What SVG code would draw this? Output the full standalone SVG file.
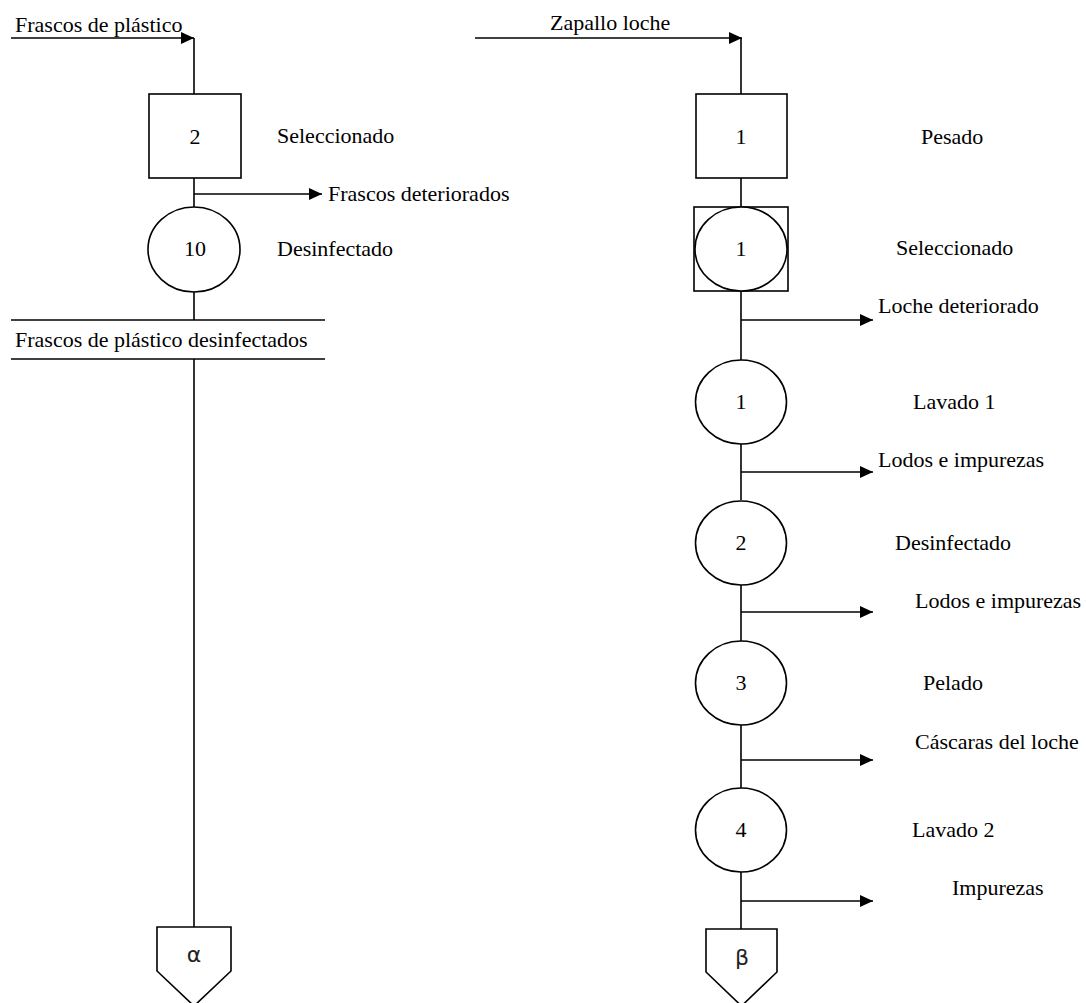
<svg xmlns="http://www.w3.org/2000/svg" width="1086" height="1003" viewBox="0 0 1086 1003">
  <style>
    .ln { stroke: #000; stroke-width: 1.6; fill: none; }
    .shape { stroke: #000; stroke-width: 1.6; fill: #fff; }
    .t { font-family: 'Liberation Serif', 'DejaVu Serif', serif; font-size: 22px; fill: #000; }
    .num { font-family: 'Liberation Serif', 'DejaVu Serif', serif; font-size: 22px; fill: #000; text-anchor: middle; }
    .greek { font-family: 'DejaVu Sans', sans-serif; font-size: 22px; fill: #222; text-anchor: middle; }
  </style>
  <defs>
    <marker id="arrow" markerUnits="userSpaceOnUse" markerWidth="14" markerHeight="12" refX="13" refY="6" orient="auto">
      <path d="M0,0 L13,6 L0,12 Z" fill="#000"/>
    </marker>
  </defs>
  <rect width="1086" height="1003" fill="#fff"/>

  <!-- connectors -->
  <g id="connectors">
    <!-- left line: plastic jars -->
    <line class="ln" x1="11" y1="38" x2="194" y2="38" marker-end="url(#arrow)"/>
    <line class="ln" x1="194" y1="38" x2="194" y2="94"/>
    <line class="ln" x1="194" y1="178" x2="194" y2="207"/>
    <line class="ln" x1="194" y1="194" x2="322" y2="194" marker-end="url(#arrow)"/>
    <line class="ln" x1="194" y1="292" x2="194" y2="320"/>
    <line class="ln" x1="11" y1="320" x2="325" y2="320"/>
    <line class="ln" x1="11" y1="359" x2="325" y2="359"/>
    <line class="ln" x1="194" y1="359" x2="194" y2="927"/>

    <!-- right line: loche squash -->
    <line class="ln" x1="475" y1="38" x2="742" y2="38" marker-end="url(#arrow)"/>
    <line class="ln" x1="741" y1="38" x2="741" y2="94"/>
    <line class="ln" x1="741" y1="178" x2="741" y2="207"/>
    <line class="ln" x1="741" y1="291" x2="741" y2="360"/>
    <line class="ln" x1="741" y1="320" x2="873" y2="320" marker-end="url(#arrow)"/>
    <line class="ln" x1="741" y1="444" x2="741" y2="500"/>
    <line class="ln" x1="741" y1="472" x2="873" y2="472" marker-end="url(#arrow)"/>
    <line class="ln" x1="741" y1="585" x2="741" y2="641"/>
    <line class="ln" x1="741" y1="612" x2="873" y2="612" marker-end="url(#arrow)"/>
    <line class="ln" x1="741" y1="725" x2="741" y2="788"/>
    <line class="ln" x1="741" y1="760" x2="873" y2="760" marker-end="url(#arrow)"/>
    <line class="ln" x1="741" y1="872" x2="741" y2="929"/>
    <line class="ln" x1="741" y1="901" x2="873" y2="901" marker-end="url(#arrow)"/>
  </g>

  <!-- input labels -->
  <text class="t" x="15" y="32">Frascos de plástico</text>
  <text class="t" x="550" y="30">Zapallo loche</text>
  <text class="t" x="328" y="201">Frascos deteriorados</text>
  <text class="t" x="15" y="347">Frascos de plástico desinfectados</text>
  <text class="t" x="878" y="313">Loche deteriorado</text>
  <text class="t" x="878" y="467">Lodos e impurezas</text>
  <text class="t" x="915" y="608">Lodos e impurezas</text>
  <text class="t" x="915" y="749">Cáscaras del loche</text>
  <text class="t" x="952" y="895">Impurezas</text>

  <!-- left process nodes -->
  <g id="node-sel-frascos">
    <rect class="shape" x="149" y="94" width="92" height="84"/>
    <text class="num" x="195" y="144">2</text>
    <text class="t" x="277" y="143">Seleccionado</text>
  </g>
  <g id="node-desinf-frascos">
    <ellipse class="shape" cx="194" cy="249.5" rx="46" ry="42.5"/>
    <text class="num" x="195" y="256">10</text>
    <text class="t" x="277" y="256">Desinfectado</text>
  </g>
  <g id="node-alpha">
    <path class="shape" d="M157,927 L231,927 L231,971 L194,1006 L157,971 Z"/>
    <text class="greek" x="194" y="962">α</text>
  </g>

  <!-- right process nodes -->
  <g id="node-pesado">
    <rect class="shape" x="696" y="94" width="91" height="84"/>
    <text class="num" x="741" y="144">1</text>
    <text class="t" x="921" y="144">Pesado</text>
  </g>
  <g id="node-sel-loche">
    <rect class="shape" x="694" y="207" width="94" height="84"/>
    <ellipse class="shape" cx="741" cy="249" rx="46" ry="42"/>
    <text class="num" x="741" y="256">1</text>
    <text class="t" x="896" y="255">Seleccionado</text>
  </g>
  <g id="node-lavado1">
    <ellipse class="shape" cx="741" cy="402" rx="45.5" ry="42"/>
    <text class="num" x="741" y="409">1</text>
    <text class="t" x="913" y="409">Lavado 1</text>
  </g>
  <g id="node-desinf-loche">
    <ellipse class="shape" cx="741" cy="543" rx="45.5" ry="42"/>
    <text class="num" x="741" y="550">2</text>
    <text class="t" x="895" y="550">Desinfectado</text>
  </g>
  <g id="node-pelado">
    <ellipse class="shape" cx="741" cy="683" rx="45.5" ry="42"/>
    <text class="num" x="741" y="690">3</text>
    <text class="t" x="923" y="690">Pelado</text>
  </g>
  <g id="node-lavado2">
    <ellipse class="shape" cx="741" cy="830" rx="45.5" ry="42"/>
    <text class="num" x="741" y="837">4</text>
    <text class="t" x="912" y="837">Lavado 2</text>
  </g>
  <g id="node-beta">
    <path class="shape" d="M706,929 L777,929 L777,972 L741.5,1006 L706,972 Z"/>
    <text class="greek" x="742" y="965">β</text>
  </g>
</svg>
